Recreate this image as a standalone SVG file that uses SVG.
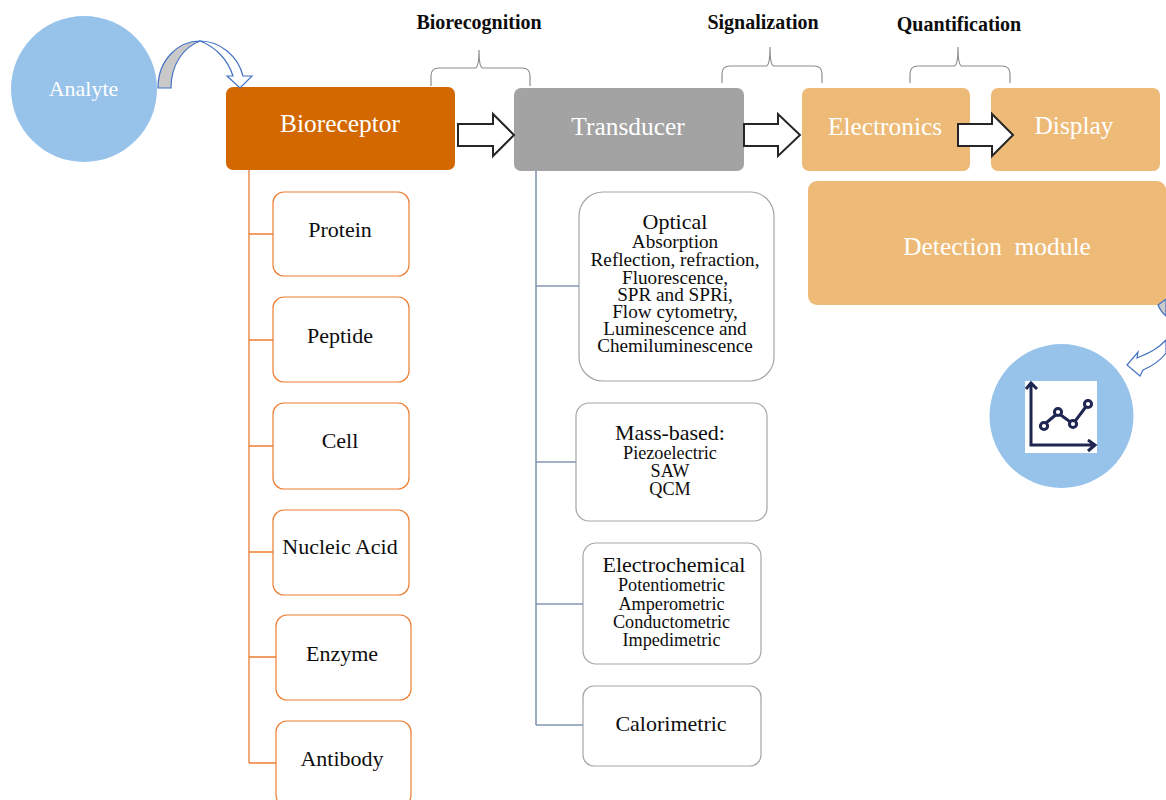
<svg xmlns="http://www.w3.org/2000/svg" width="1166" height="800" viewBox="0 0 1166 800">
<style>
text{font-family:"Liberation Serif","Times New Roman",serif;text-anchor:middle;fill:#0d0d0d}
text.w{fill:#fff;font-size:25.4px}
.b{font-weight:bold;font-size:20px}
.t22{font-size:22px}
.t19{font-size:19.2px}
.t18{font-size:18.2px}
.or{fill:#fff;stroke:#ed7d31;stroke-width:1.2}
.gr{fill:#fff;stroke:#a5a5a5;stroke-width:1.2}
.br{fill:none;stroke:#8c8c8c;stroke-width:1.2}
.cO{fill:none;stroke:#ed7d31;stroke-width:1.3}
.cB{fill:none;stroke:#8497b0;stroke-width:1.6}
.blk{fill:#fff;stroke:#262626;stroke-width:2}
.cv{stroke:#4472c4;stroke-width:1.2}
.ic{fill:none;stroke:#1f2651;stroke-width:3}
</style>
<rect width="1166" height="800" fill="#fff"/>
<g id="analyte"><circle cx="84" cy="89" r="73" fill="#97c2e9"/><text class="w" x="83.500" y="96" style="font-size:22px">Analyte</text></g>
<g id="bioreceptor"><rect x="226" y="87" width="229" height="83" rx="7" fill="#d36800"/><text class="w" x="340" y="132">Bioreceptor</text></g>
<g id="transducer"><rect x="514" y="88" width="230" height="83" rx="7" fill="#a3a3a3"/><text class="w" x="628" y="135">Transducer</text></g>
<g id="electronics"><rect x="802" y="88" width="168" height="83" rx="7" fill="#edbb77"/><text class="w" x="885" y="135">Electronics</text></g>
<g id="display"><rect x="991" y="88" width="169" height="83" rx="7" fill="#edbb77"/><text class="w" x="1074" y="134">Display</text></g>
<g id="detection"><rect x="808" y="181" width="358" height="124" rx="9" fill="#edbb77"/><text class="w" x="997" y="255" xml:space="preserve">Detection  module</text></g>
<g id="label-biorecognition"><path class="br" d="M431 86V76Q431 68 439 68H475Q479 68 479 50Q479 68 483 68H522Q530 68 530 76V86"/><text class="b" x="479" y="29">Biorecognition</text></g>
<g id="label-signalization"><path class="br" d="M722 83V74Q722 66 730 66H766Q770 66 770 47Q770 66 774 66H814Q822 66 822 74V83"/><text class="b" x="763" y="29">Signalization</text></g>
<g id="label-quantification"><path class="br" d="M910 83V74Q910 66 918 66H954Q958 66 958 47Q958 66 962 66H1002Q1010 66 1010 74V83"/><text class="b" x="959" y="31">Quantification</text></g>
<g id="protein"><rect class="or" x="273" y="192" width="136" height="84" rx="11"/><text class="t22" x="340" y="237">Protein</text></g>
<g id="peptide"><rect class="or" x="273" y="297" width="136" height="85" rx="11"/><text class="t22" x="340" y="343">Peptide</text></g>
<g id="cell"><rect class="or" x="273" y="403" width="136" height="86" rx="11"/><text class="t22" x="340" y="448">Cell</text></g>
<g id="nucleic"><rect class="or" x="273" y="510" width="136" height="85" rx="11"/><text class="t22" x="340" y="554">Nucleic Acid</text></g>
<g id="enzyme"><rect class="or" x="276" y="615" width="135" height="85" rx="11"/><text class="t22" x="342" y="661">Enzyme</text></g>
<g id="antibody"><rect class="or" x="276" y="721" width="135" height="85" rx="11"/><text class="t22" x="342" y="766">Antibody</text></g>
<g id="optical"><rect class="gr" x="579" y="192" width="195" height="189" rx="24"/>
<text class="t19" x="675" y="229"><tspan style="font-size:22px">Optical</tspan><tspan x="675" dy="19">Absorption</tspan><tspan x="675" dy="18">Reflection, refraction,</tspan><tspan x="675" dy="17.500">Fluorescence,</tspan><tspan x="675" dy="17.500">SPR and SPRi,</tspan><tspan x="675" dy="17">Flow cytometry,</tspan><tspan x="675" dy="17">Luminescence and</tspan><tspan x="675" dy="17">Chemiluminescence</tspan></text></g>
<g id="mass"><rect class="gr" x="576" y="403" width="191" height="118" rx="13"/>
<text class="t18" x="670" y="440"><tspan style="font-size:22px">Mass-based:</tspan><tspan x="670" dy="19">Piezoelectric</tspan><tspan x="670" dy="18">SAW</tspan><tspan x="670" dy="18">QCM</tspan></text></g>
<g id="electrochemical"><rect class="gr" x="583" y="543" width="178" height="121" rx="13"/>
<text class="t18" x="674" y="572"><tspan style="font-size:22px">Electrochemical</tspan><tspan x="671.500" dy="19">Potentiometric</tspan><tspan x="671.500" dy="18.500">Amperometric</tspan><tspan x="671.500" dy="18">Conductometric</tspan><tspan x="671.500" dy="18">Impedimetric</tspan></text></g>
<g id="calorimetric"><rect class="gr" x="583" y="686" width="178" height="80" rx="11"/><text class="t22" x="671" y="731">Calorimetric</text></g>
<g id="result"><circle cx="1061.500" cy="416" r="72" fill="#97c2e9"/><rect x="1025" y="381" width="72" height="72" fill="#fff"/>
<g class="ic"><path d="M1031 383V445H1095M1026 389L1031 383L1037 389M1088 440L1095 445L1088 451"/><path d="M1046 423L1058 413L1073 424L1088 404"/><g style="fill:#fff"><circle cx="1044" cy="426" r="3.600"/><circle cx="1058" cy="412" r="3.600"/><circle cx="1073" cy="424" r="3.600"/><circle cx="1088" cy="404" r="3.600"/></g></g></g>
<g id="connectors">
<path class="cO" d="M249 170V763M249 234H273M249 340H273M249 446H273M249 552H273M249 657H276M249 763H276"/>
<path class="cB" d="M536 171V725M536 286H579M536 462H576M536 604H583M536 725H583"/>
<path class="blk" d="M458 124H493V114L514 135L493 156V146H458Z"/>
<path class="blk" d="M744 124H778V114L800 135L778 156V146H744Z"/>
<path class="blk" d="M958 124H992V114L1013 135L992 156V146H958Z"/>
<path class="cv" fill="#c9c9c9" d="M158 88C158 60 178 41 200 41C184 47 171 64 171 88Z"/>
<path class="cv" fill="#fff" d="M200 41C220 41 238 56 243 76H252L240 88L227 76H233C228 60 216 47 200 41Z"/>
<path class="cv" fill="#c9c9c9" d="M1158 305L1166 299V316Q1161 312 1158 305Z"/>
<path class="cv" fill="#fff" d="M1166 340C1158 349 1149 353 1137 358L1138 352L1127 365L1140 376L1143 370C1152 366 1160 361 1166 353Z"/>
</g>
</svg>
